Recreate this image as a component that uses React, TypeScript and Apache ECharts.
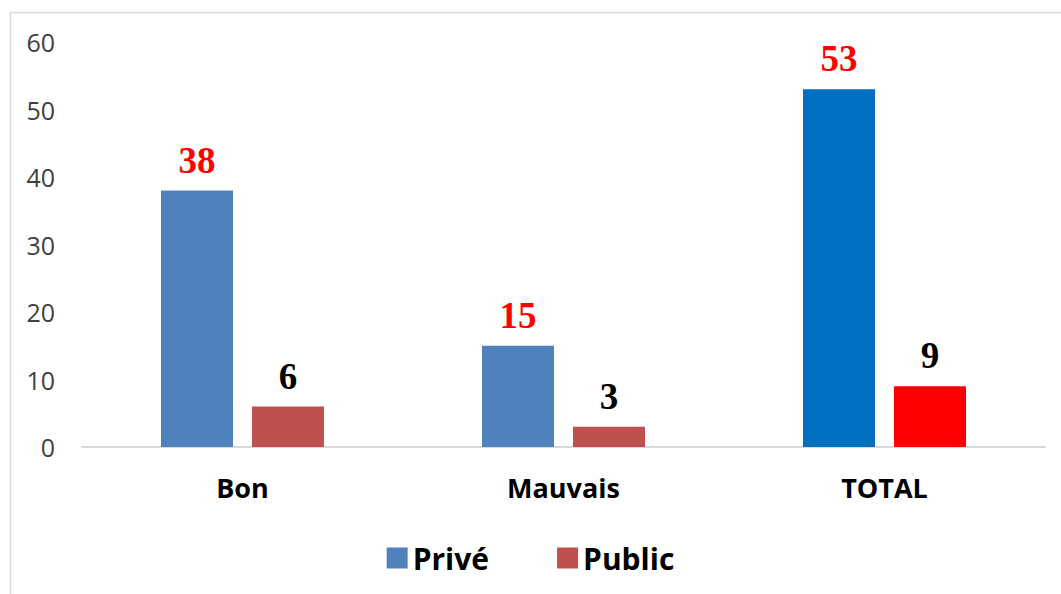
import React, { useEffect, useRef } from "react";
import * as echarts from "echarts";

const categories = ["Bon", "Mauvais", "TOTAL"];
const priveValues = [38, 15, 53];
const publicValues = [6, 3, 9];
const priveColors = ["#4F81BD", "#4F81BD", "#0070C0"];
const publicColors = ["#C0504D", "#C0504D", "#FF0000"];
const yTicks = { min: 0, max: 60, interval: 10 };

export default function App() {
  const ref = useRef<HTMLDivElement>(null);
  useEffect(() => {
    document.body.style.margin = "0";
    const chart = echarts.init(ref.current!, null, { renderer: "svg" });
    const labelStyle = (color: string) => ({
      show: true,
      position: "top",
      distance: 12,
      color,
      fontFamily: "Liberation Serif",
      fontWeight: "bold",
      fontSize: 37,
    });
    chart.setOption({
      animation: false,
      backgroundColor: "#ffffff",
      graphic: [
        {
          type: "rect",
          shape: { x: 10.5, y: 12.5, width: 1200, height: 800 },
          style: { fill: "none", stroke: "#d9d9d9", lineWidth: 1.5 },
          silent: true,
          z: -1,
        },
      ],
      grid: { left: 82, right: 16, top: 42, bottom: 147 },
      legend: {
        bottom: 16,
        left: "center",
        itemWidth: 21,
        itemHeight: 21,
        itemGap: 68,
        icon: "rect",
        textStyle: {
          fontFamily: "Open Sans",
          fontWeight: "bold",
          fontSize: 30,
          color: "#000000",
        },
        data: [
          { name: "Privé", itemStyle: { color: "#4F81BD" } },
          { name: "Public", itemStyle: { color: "#C0504D" } },
        ],
      },
      xAxis: {
        type: "category",
        data: categories,
        axisLine: { show: true, lineStyle: { color: "#d9d9d9", width: 2 } },
        axisTick: { show: false },
        axisLabel: {
          margin: 27,
          fontFamily: "Open Sans",
          fontWeight: "bold",
          fontSize: 27,
          color: "#000000",
        },
      },
      yAxis: {
        type: "value",
        min: yTicks.min,
        max: yTicks.max,
        interval: yTicks.interval,
        axisLine: { show: false },
        axisTick: { show: false },
        splitLine: { show: false },
        axisLabel: {
          margin: 27,
          fontFamily: "Open Sans",
          fontSize: 25,
          color: "#404040",
        },
      },
      series: [
        {
          name: "Privé",
          type: "bar",
          barWidth: 72,
          barGap: "26.4%",
          data: priveValues.map((v, i) => ({ value: v, itemStyle: { color: priveColors[i] } })),
          label: labelStyle("#FF0000"),
        },
        {
          name: "Public",
          type: "bar",
          barWidth: 72,
          data: publicValues.map((v, i) => ({ value: v, itemStyle: { color: publicColors[i] } })),
          label: labelStyle("#000000"),
        },
      ],
    });
    return () => chart.dispose();
  }, []);
  return <div ref={ref} style={{ width: 1061, height: 594 }} />;
}
